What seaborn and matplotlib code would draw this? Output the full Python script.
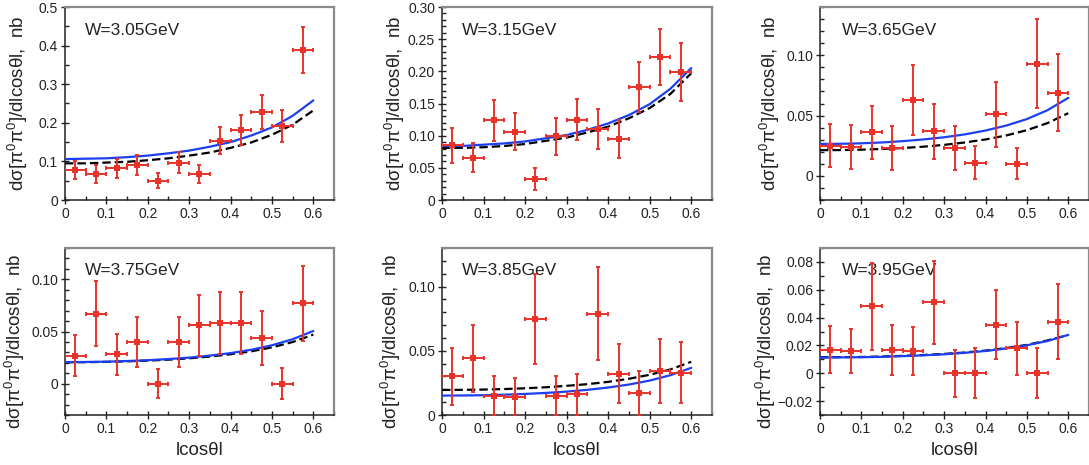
import numpy as np
import pandas as pd
import matplotlib
matplotlib.use("Agg")
import matplotlib.pyplot as plt
import seaborn as sns
from matplotlib.ticker import FixedLocator, MultipleLocator, FixedFormatter

# ---------------- data ----------------
cos_center = [0.025, 0.075, 0.125, 0.175, 0.225, 0.275, 0.325, 0.375, 0.425, 0.475, 0.525, 0.575]
cos_halfbin = [0.025] * 12

w_labels = ["W=3.05GeV", "W=3.15GeV", "W=3.65GeV", "W=3.75GeV", "W=3.85GeV", "W=3.95GeV"]

val_305 = [0.078, 0.068, 0.082, 0.090, 0.050, 0.097, 0.068, 0.154, 0.181, 0.228, 0.192, 0.388]
err_305 = [0.024, 0.023, 0.024, 0.026, 0.020, 0.027, 0.023, 0.035, 0.039, 0.043, 0.042, 0.060]

val_315 = [0.085, 0.066, 0.124, 0.106, 0.033, 0.099, 0.125, 0.110, 0.095, 0.176, 0.222, 0.199]
err_315 = [0.027, 0.023, 0.032, 0.029, 0.017, 0.029, 0.032, 0.031, 0.029, 0.039, 0.044, 0.045]

val_365 = [0.025, 0.024, 0.036, 0.023, 0.063, 0.037, 0.023, 0.011, 0.051, 0.010, 0.093, 0.069]
err_365 = [0.018, 0.018, 0.022, 0.018, 0.029, 0.023, 0.018, 0.014, 0.027, 0.013, 0.037, 0.032]

val_375 = [0.027, 0.067, 0.028, 0.040, 0.000, 0.040, 0.056, 0.058, 0.058, 0.044, 0.000, 0.077]
err_375 = [0.020, 0.031, 0.020, 0.024, 0.014, 0.024, 0.029, 0.030, 0.030, 0.026, 0.015, 0.036]

val_385 = [0.030, 0.044, 0.015, 0.014, 0.075, 0.015, 0.016, 0.079, 0.032, 0.017, 0.034, 0.033]
err_385 = [0.022, 0.026, 0.015, 0.015, 0.035, 0.015, 0.016, 0.036, 0.023, 0.017, 0.025, 0.024]

val_395 = [0.017, 0.016, 0.048, 0.017, 0.016, 0.051, 0.000, 0.000, 0.035, 0.018, 0.000, 0.037]
err_395 = [0.017, 0.016, 0.031, 0.018, 0.017, 0.030, 0.017, 0.018, 0.025, 0.019, 0.018, 0.027]

curve_x = [0.0, 0.05, 0.10, 0.15, 0.20, 0.25, 0.30, 0.35, 0.40, 0.45, 0.50, 0.55, 0.60]

blue_305 = [0.106, 0.107, 0.108, 0.111, 0.115, 0.121, 0.128, 0.138, 0.150, 0.167, 0.188, 0.218, 0.258]
dash_305 = [0.095, 0.095, 0.097, 0.099, 0.103, 0.108, 0.115, 0.123, 0.135, 0.149, 0.169, 0.195, 0.232]

blue_315 = [0.084, 0.084, 0.086, 0.088, 0.091, 0.096, 0.101, 0.109, 0.119, 0.132, 0.149, 0.173, 0.205]
dash_315 = [0.081, 0.081, 0.082, 0.084, 0.087, 0.092, 0.097, 0.105, 0.114, 0.127, 0.143, 0.165, 0.197]

blue_365 = [0.0265, 0.0266, 0.0270, 0.0277, 0.0288, 0.0302, 0.0320, 0.0344, 0.0376, 0.0417, 0.0471, 0.0545, 0.0647]
dash_365 = [0.0213, 0.0214, 0.0217, 0.0223, 0.0231, 0.0242, 0.0257, 0.0277, 0.0302, 0.0335, 0.0379, 0.0438, 0.0520]

blue_375 = [0.0207, 0.0208, 0.0211, 0.0217, 0.0225, 0.0236, 0.0250, 0.0269, 0.0293, 0.0325, 0.0368, 0.0426, 0.0505]
dash_375 = [0.0205, 0.0206, 0.0209, 0.0214, 0.0221, 0.0230, 0.0243, 0.0260, 0.0282, 0.0310, 0.0348, 0.0399, 0.0470]

blue_385 = [0.0151, 0.0152, 0.0154, 0.0158, 0.0164, 0.0172, 0.0182, 0.0196, 0.0214, 0.0237, 0.0268, 0.0310, 0.0367]
dash_385 = [0.0195, 0.0196, 0.0198, 0.0202, 0.0208, 0.0216, 0.0227, 0.0240, 0.0258, 0.0282, 0.0313, 0.0355, 0.0414]

blue_395 = [0.0113, 0.0114, 0.0115, 0.0118, 0.0123, 0.0129, 0.0136, 0.0147, 0.0160, 0.0178, 0.0201, 0.0232, 0.0276]
dash_395 = [0.0115, 0.0116, 0.0117, 0.0120, 0.0125, 0.0131, 0.0139, 0.0149, 0.0163, 0.0181, 0.0204, 0.0236, 0.0275]

x_ticks = [0, 0.1, 0.2, 0.3, 0.4, 0.5, 0.6]
x_ticklabels = ["0", "0.1", "0.2", "0.3", "0.4", "0.5", "0.6"]

yt_305 = [0, 0.1, 0.2, 0.3, 0.4, 0.5]
yl_305 = ["0", "0.1", "0.2", "0.3", "0.4", "0.5"]
yt_315 = [0, 0.05, 0.10, 0.15, 0.20, 0.25, 0.30]
yl_315 = ["0", "0.05", "0.10", "0.15", "0.20", "0.25", "0.30"]
yt_3x = [0, 0.05, 0.10]
yl_3x = ["0", "0.05", "0.10"]
yt_395 = [-0.02, 0, 0.02, 0.04, 0.06, 0.08]
yl_395 = ["\u22120.02", "0", "0.02", "0.04", "0.06", "0.08"]

x_label = "lcosθl"
y_label = "dσ[π$^0$π$^0$]/dlcosθl,  nb"

# ---------------- style ----------------
sns.set_theme(style="white")
plt.rcParams["font.family"] = ["Liberation Sans", "DejaVu Sans"]
plt.rcParams["mathtext.fontset"] = "custom"
plt.rcParams["mathtext.rm"] = "Liberation Sans"
plt.rcParams["mathtext.it"] = "Liberation Sans"

RED = "#e8322a"
BLUE = "#1c3ff2"

panels = [
    dict(vals=val_305, errs=err_305, blue=blue_305, dash=dash_305, ylim=(0, 0.5), yt=yt_305, yl=yl_305, minor=0.05),
    dict(vals=val_315, errs=err_315, blue=blue_315, dash=dash_315, ylim=(0, 0.30), yt=yt_315, yl=yl_315, minor=0.01),
    dict(vals=val_365, errs=err_365, blue=blue_365, dash=dash_365, ylim=(-0.02, 0.14), yt=yt_3x, yl=yl_3x, minor=0.01),
    dict(vals=val_375, errs=err_375, blue=blue_375, dash=dash_375, ylim=(-0.03, 0.13), yt=yt_3x, yl=yl_3x, minor=0.01),
    dict(vals=val_385, errs=err_385, blue=blue_385, dash=dash_385, ylim=(0, 0.13), yt=yt_3x, yl=yl_3x, minor=0.01),
    dict(vals=val_395, errs=err_395, blue=blue_395, dash=dash_395, ylim=(-0.03, 0.09), yt=yt_395, yl=yl_395, minor=0.01),
]

W, H = 1089, 465
fig = plt.figure(figsize=(W / 100, H / 100), dpi=100)

lefts = [65, 442, 820]
widths = [269, 270, 269]
rows = [(7, 200), (248, 415)]
text_x = [0.074, 0.074, 0.082]
ylab_x = [[-0.13, -0.13, -0.14], [-0.14, -0.145, -0.155]]

for i, p in enumerate(panels):
    r, c = divmod(i, 3)
    top, bot = rows[r]
    ax = fig.add_axes([lefts[c] / W, 1 - bot / H, widths[c] / W, (bot - top) / H])

    cdf = pd.DataFrame({"x": curve_x, "blue": p["blue"], "dash": p["dash"]})
    sns.lineplot(data=cdf, x="x", y="dash", ax=ax, color="black", lw=1.6,
                 linestyle=(0, (3.8, 1.8)), zorder=2)
    sns.lineplot(data=cdf, x="x", y="blue", ax=ax, color=BLUE, lw=1.6, zorder=3)

    ddf = pd.DataFrame({"x": cos_center, "y": p["vals"]})
    ax.errorbar(cos_center, p["vals"], xerr=cos_halfbin, yerr=p["errs"], fmt="none",
                ecolor=RED, elinewidth=1.4, capsize=1.6, capthick=1.4, zorder=4)
    sns.scatterplot(data=ddf, x="x", y="y", ax=ax, marker="s", s=24, color=RED,
                    edgecolor=RED, linewidth=0, zorder=5)

    ax.set_xlim(0, 0.65)
    ax.set_ylim(*p["ylim"])
    ax.xaxis.set_major_locator(FixedLocator(x_ticks))
    ax.xaxis.set_major_formatter(FixedFormatter(x_ticklabels))
    ax.xaxis.set_minor_locator(MultipleLocator(0.05))
    ax.yaxis.set_major_locator(FixedLocator(p["yt"]))
    ax.yaxis.set_major_formatter(FixedFormatter(p["yl"]))
    ax.yaxis.set_minor_locator(MultipleLocator(p["minor"]))

    ax.tick_params(which="major", direction="inout", length=6, width=1.0,
                   color="#222222", labelsize=10, labelcolor="#222222", pad=2,
                   left=True, bottom=True, top=False, right=False)
    ax.tick_params(which="minor", direction="in", length=3, width=1.0,
                   color="#222222", left=True, bottom=True, top=False, right=False)

    for s in ["left", "bottom"]:
        ax.spines[s].set_color("#222222")
        ax.spines[s].set_linewidth(1.1)
    for s in ["top", "right"]:
        ax.spines[s].set_color("#8a8a8a")
        ax.spines[s].set_linewidth(1.6)

    ax.set_ylabel(y_label, fontsize=13.5, color="#222222")
    ax.yaxis.set_label_coords(ylab_x[r][c], 0.5 if r == 0 else 0.44)
    if r == 1:
        ax.set_xlabel(x_label, fontsize=13.5, color="#222222")
        ax.xaxis.set_label_coords(0.5, -0.16)
    else:
        ax.set_xlabel("")

    ax.text(text_x[c], 0.88 if r == 0 else 0.868, w_labels[i], transform=ax.transAxes,
            fontsize=12.5, color="#222222", va="center", ha="left")
    ax.set_facecolor("white")

fig.savefig("out.png", dpi=100, facecolor="white")
